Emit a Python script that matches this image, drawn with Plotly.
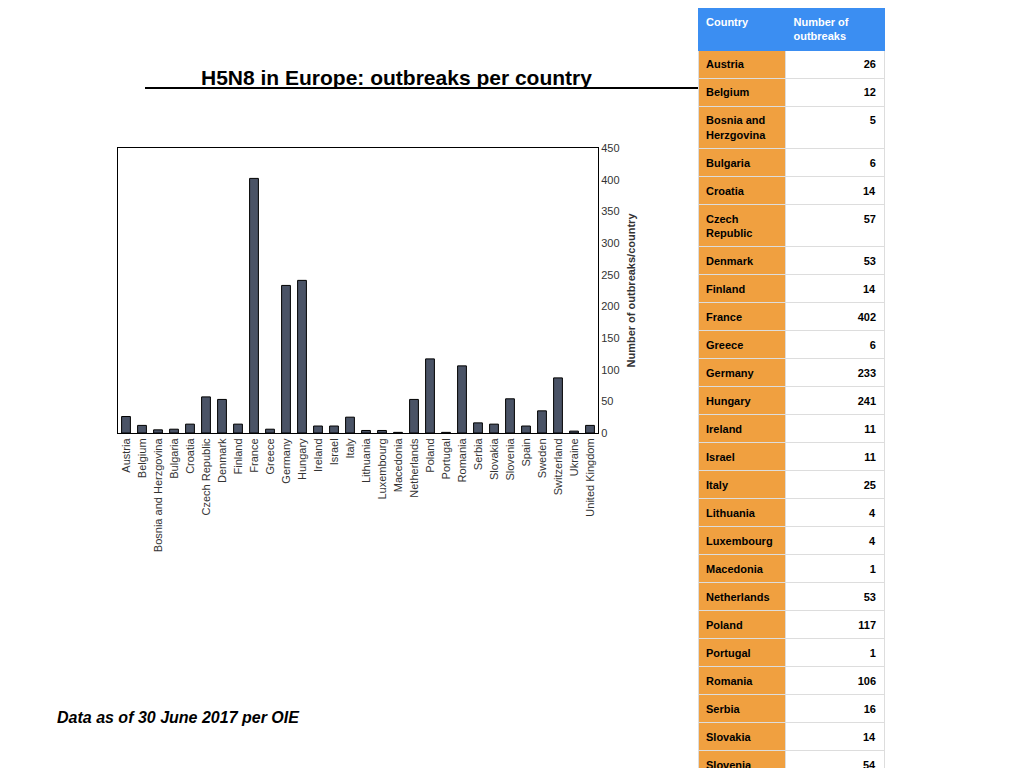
import plotly.graph_objects as go

countries = ["Austria","Belgium","Bosnia and Herzgovina","Bulgaria","Croatia","Czech Republic","Denmark","Finland","France","Greece","Germany","Hungary","Ireland","Israel","Italy","Lithuania","Luxembourg","Macedonia","Netherlands","Poland","Portugal","Romania","Serbia","Slovakia","Slovenia","Spain","Sweden","Switzerland","Ukraine","United Kingdom"]
outbreaks = [26,12,5,6,14,57,53,14,402,6,233,241,11,11,25,4,4,1,53,117,1,106,16,14,54,11,35,87,3,12]
table_names = ["Austria","Belgium","Bosnia and<br>Herzgovina","Bulgaria","Croatia","Czech<br>Republic","Denmark","Finland","France","Greece","Germany","Hungary","Ireland","Israel","Italy","Lithuania","Luxembourg","Macedonia","Netherlands","Poland","Portugal","Romania","Serbia","Slovakia","Slovenia","Spain","Sweden","Switzerland","Ukraine","United<br>Kingdom","Total"]
total = 1634

W, H = 1024, 768
fig = go.Figure()
fig.add_trace(go.Bar(x=countries, y=outbreaks, marker=dict(color="#4a5366", line=dict(color="black", width=1)), width=0.55))

nums = [str(v) for v in outbreaks] + [f"<span style='color:#e8553a'>{total}</span>"]
fig.add_trace(go.Table(
    domain=dict(x=[690/W, 876/W], y=[0, 1]),
    columnwidth=[87, 98],
    header=dict(values=["<b>Country</b>", "<b>Number of<br>outbreaks</b>"],
                fill_color="#3b8ef2", font=dict(color="white", size=11, family="Liberation Sans"),
                align="left", height=20, line=dict(color="#3b8ef2")),
    cells=dict(values=[[f"<b>{n}</b>" for n in table_names], [f"<b>{v}</b>" for v in nums]],
               fill_color=[["#f0a040"]*31, ["white"]*31],
               font=dict(color="black", size=11, family="Liberation Sans"),
               align=["left", "right"], height=16, line=dict(color="#dddddd", width=1))
))

fig.update_layout(
    width=W, height=H, margin=dict(l=0, r=0, t=0, b=0, autoexpand=False),
    plot_bgcolor="white", paper_bgcolor="white", showlegend=False,
    font=dict(family="Liberation Sans", color="#333"),
    xaxis=dict(domain=[110/W, 590/W], tickangle=-90, showline=True, linecolor="black", mirror=True,
               tickfont=dict(size=11, color="#333"), ticks="", range=[-0.5, 29.5]),
    yaxis=dict(domain=[(H-425)/H, (H-140)/H], range=[0, 450], dtick=50, side="right",
               showline=True, linecolor="black", mirror=True, showgrid=False, ticks="",
               tickfont=dict(size=11, color="#333"),
               title=dict(text="<b>Number of outbreaks/country</b>", font=dict(size=11, color="#333"), standoff=8)),
    annotations=[
        dict(text="<b>H5N8 in Europe: outbreaks per country</b>", x=388/W, y=1-56/H, xref="paper", yref="paper",
             showarrow=False, font=dict(size=21, color="black")),
        dict(text="<b><i>Data as of 30 June 2017 per OIE</i></b>", x=47/W, y=1-720/H, xref="paper", yref="paper",
             xanchor="left", showarrow=False, font=dict(size=16, color="black")),
    ],
    shapes=[dict(type="line", xref="paper", yref="paper", x0=137/W, x1=690/W, y0=1-80/H, y1=1-80/H,
                 line=dict(color="black", width=2))]
)
fig.write_html("out.html")
